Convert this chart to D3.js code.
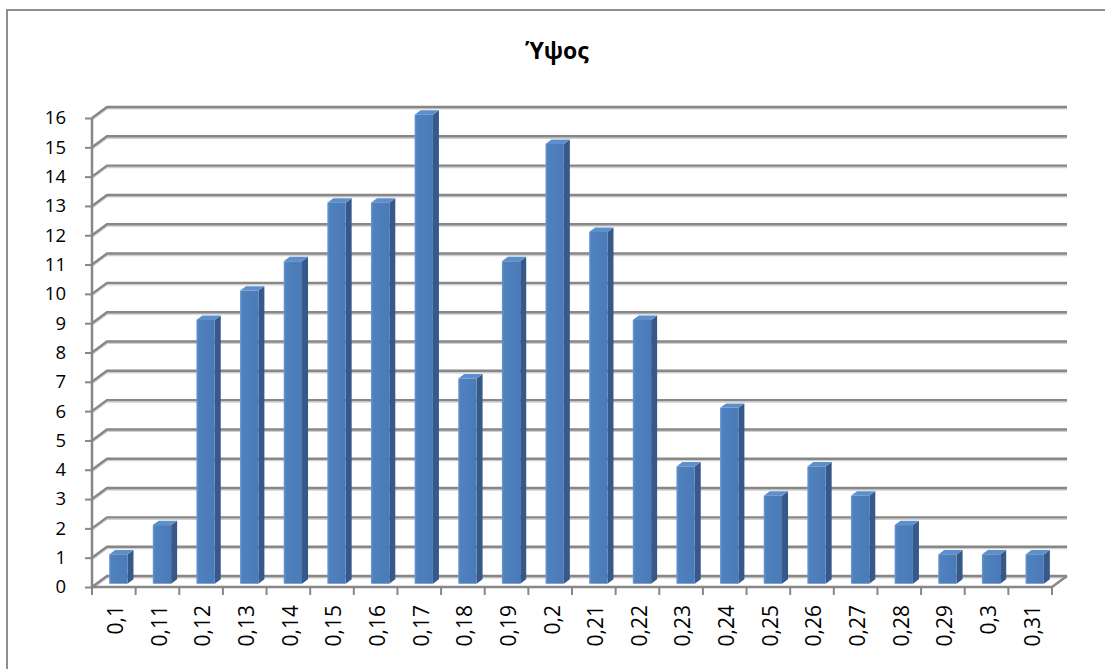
<!DOCTYPE html>
<html>
<head>
<meta charset="utf-8">
<script src="https://cdn.jsdelivr.net/npm/d3@7"></script>
<style>
  body { margin: 0; background: #fff; }
  svg text { font-family: "Open Sans", "Noto Sans", sans-serif; fill: #000; }
</style>
</head>
<body>
<svg id="chart" width="1105" height="669"></svg>
<script>
// values
var categories = ['0,1', '0,11', '0,12', '0,13', '0,14', '0,15', '0,16', '0,17', '0,18', '0,19', '0,2',
  '0,21', '0,22', '0,23', '0,24', '0,25', '0,26', '0,27', '0,28', '0,29', '0,3', '0,31'];
var counts = [1, 2, 9, 10, 11, 13, 13, 16, 7, 11, 15, 12, 9, 4, 6, 3, 4, 3, 2, 1, 1, 1];
var yTicks = d3.range(0, 17);
var title = 'Ύψος';

var svg = d3.select('#chart');

// frame of the chart area
svg.append('rect')
    .attr('x', 7).attr('y', 10)
    .attr('width', 1120).attr('height', 700)
    .attr('fill', 'none')
    .attr('stroke', '#8e8e8e')
    .attr('stroke-width', 2);

svg.append('text')
    .attr('x', 557).attr('y', 59)
    .attr('text-anchor', 'middle')
    .style('font-weight', 'bold')
    .style('font-size', '23px')
    .text(title);

var x = d3.scaleBand().domain(categories).range([92, 1052]);
var y = d3.scaleLinear().domain([0, 16]).range([587, 118]);

// oblique depth of the 3d box
var depth = {dx: 15, dy: -11};
function off(f) { return [depth.dx * f, depth.dy * f]; }

var grid = svg.append('g');
yTicks.forEach(function(t) {
  var yy = y(t);
  var b = off(1);
  var pts = [[x.range()[0], yy], [x.range()[0] + b[0], yy + b[1]], [x.range()[1] + b[0], yy + b[1]]];
  // light shadow then the line
  grid.append('polyline')
      .attr('points', pts.map(function(p) { return p[0] + ',' + (p[1] + 1.8); }).join(' '))
      .attr('fill', 'none').attr('stroke', '#d0d0d0').attr('stroke-width', 1.6);
  grid.append('polyline')
      .attr('points', pts.map(function(p) { return p.join(','); }).join(' '))
      .attr('fill', 'none').attr('stroke', '#878787').attr('stroke-width', 2.4);
});

// floor: front edge and right edge
var b1 = off(1);
grid.append('polyline')
    .attr('points', [[x.range()[0], y(0)], [x.range()[1], y(0)], [x.range()[1] + b1[0], y(0) + b1[1]]]
      .map(function(p) { return p.join(','); }).join(' '))
    .attr('fill', 'none').attr('stroke', '#878787').attr('stroke-width', 2.4);

// value axis line
grid.append('line')
    .attr('x1', 92).attr('x2', 92)
    .attr('y1', y(16)).attr('y2', y(0))
    .attr('stroke', '#878787').attr('stroke-width', 2.5);

// bars
var bw = x.bandwidth() * 0.42;
var f0 = 0.3, f1 = 0.7;
var bars = svg.append('g').selectAll('g').data(counts).enter().append('g');

bars.each(function(d, i) {
  var g = d3.select(this);
  var a = off(f0), c = off(f1);
  var cx = x(categories[i]) + x.bandwidth() / 2;
  var x0 = cx - bw / 2 + a[0];
  var x1 = x0 + bw;
  var yb = y(0) + a[1];
  var yt = y(d) + a[1];
  var sx = c[0] - a[0], sy = c[1] - a[1];

  g.append('polygon')
      .attr('points', [[x1, yt], [x1 + sx, yt + sy], [x1 + sx, yb + sy], [x1, yb]].join(' '))
      .attr('fill', '#36598a');
  g.append('polygon')
      .attr('points', [[x0, yt], [x0 + sx, yt + sy], [x1 + sx, yt + sy], [x1, yt]].join(' '))
      .attr('fill', '#5e8fcd');
  g.append('rect')
      .attr('x', x0).attr('y', yt)
      .attr('width', bw).attr('height', yb - yt)
      .attr('fill', 'url(#front)');
});

var defs = svg.append('defs');
var grad = defs.append('linearGradient').attr('id', 'front');
grad.append('stop').attr('offset', '0').attr('stop-color', '#6a9ad6');
grad.append('stop').attr('offset', '0.12').attr('stop-color', '#4f81bd');
grad.append('stop').attr('offset', '1').attr('stop-color', '#4a7bb8');

// value axis labels and ticks
var yAxis = svg.append('g')
    .attr('transform', 'translate(92,0)')
    .call(d3.axisLeft(y).tickValues(yTicks).tickSize(7).tickPadding(19).tickFormat(d3.format('d')));
yAxis.select('.domain').remove();
yAxis.selectAll('line').attr('stroke', '#878787').attr('stroke-width', 2);
yAxis.selectAll('text').style('font-size', '18.5px').attr('font-family', null);

// category axis
var xAxis = svg.append('g')
    .attr('transform', 'translate(0,' + y(0) + ')')
    .call(d3.axisBottom(x).tickSize(0).tickFormat(function(d) { return d; }));
xAxis.select('.domain').remove();
xAxis.selectAll('.tick line').remove();
xAxis.selectAll('text')
    .attr('transform', 'translate(2,18) rotate(-90)')
    .attr('dy', '0.35em').attr('x', 0).attr('y', 0)
    .attr('text-anchor', 'end')
    .style('font-size', '21px')
    .attr('font-family', null);

// category ticks sit on the band edges
var edges = categories.map(function(c) { return x(c); }).concat([x.range()[1]]);
svg.append('g').selectAll('line').data(edges).enter().append('line')
    .attr('x1', function(d) { return d; }).attr('x2', function(d) { return d; })
    .attr('y1', y(0)).attr('y2', y(0) + 8)
    .attr('stroke', '#878787').attr('stroke-width', 2);
</script>
</body>
</html>
